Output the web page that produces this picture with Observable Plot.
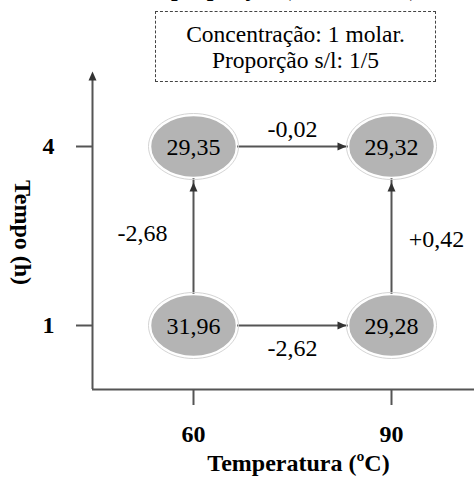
<!DOCTYPE html>
<html>
<head>
<meta charset="utf-8">
<script src="https://cdn.jsdelivr.net/npm/d3@7"></script>
<script src="https://cdn.jsdelivr.net/npm/@observablehq/plot@0.6"></script>
<style>
  html, body { margin: 0; padding: 0; background: white; }
  #wrap { position: relative; width: 474px; height: 480px; overflow: hidden; font-family: "Liberation Serif", "Times New Roman", serif; }
  #title { position: absolute; left: 0; width: 490px; top: -24px; text-align: center; font-weight: bold; font-size: 24px; line-height: 24px; white-space: nowrap; }
  #note { position: absolute; left: 155px; top: 11px; width: 281px; height: 71px; border: 1px dashed #444; box-sizing: border-box; text-align: center; font-size: 23.5px; line-height: 26px; padding-top: 9px; white-space: nowrap; }
  #chart { position: absolute; left: 0; top: 0; }
</style>
</head>
<body>
<div id="wrap">
  <div id="chart"></div>
  <div id="title">Efeito da proporção (rendimento)</div>
  <div id="note">Concentração: 1 molar.<br>Proporção s/l: 1/5</div>
</div>
<script>
// ---- data ----
const temps = [60, 90];            // Temperatura (ºC)
const times = [1, 4];              // Tempo (h)
// node values, order: (60,1), (90,1), (60,4), (90,4)
const nodeValues = ["31,96", "29,28", "29,35", "29,32"];
// effects between nodes
const edgeFrom = [0, 0, 2, 1];
const edgeTo = [1, 2, 3, 3];
const edgeLabels = ["-2,62", "-2,68", "-0,02", "+0,42"];
const xTickLabels = ["60", "90"];
const yTickLabels = ["1", "4"];
const xTitle = "Temperatura (ºC)";
const yTitle = "Tempo (h)";

const nodes = [
  {x: temps[0], y: times[0], label: nodeValues[0]},
  {x: temps[1], y: times[0], label: nodeValues[1]},
  {x: temps[0], y: times[1], label: nodeValues[2]},
  {x: temps[1], y: times[1], label: nodeValues[3]}
];
const edges = edgeFrom.map((f, i) => ({
  from: nodes[f], to: nodes[edgeTo[i]], label: edgeLabels[i],
  horizontal: nodes[f].y === nodes[edgeTo[i]].y
}));

// custom symbols
function ellipse(rx, ry) {
  const k = 0.5523;
  return {draw(ctx) {
    ctx.moveTo(rx, 0);
    ctx.bezierCurveTo(rx, ry * k, rx * k, ry, 0, ry);
    ctx.bezierCurveTo(-rx * k, ry, -rx, ry * k, -rx, 0);
    ctx.bezierCurveTo(-rx, -ry * k, -rx * k, -ry, 0, -ry);
    ctx.bezierCurveTo(rx * k, -ry, rx, -ry * k, rx, 0);
    ctx.closePath();
  }};
}
const arrowRight = {draw(ctx) { ctx.moveTo(0, 0); ctx.lineTo(-9, -4); ctx.lineTo(-9, 4); ctx.closePath(); }};
const arrowUp = {draw(ctx) { ctx.moveTo(0, 0); ctx.lineTo(-4, 9); ctx.lineTo(4, 9); ctx.closePath(); }};

// layout: 60 -> 193px, 90 -> 391px ; 4 -> 146px, 1 -> 325px
const W = 474, H = 480, mL = 92, mB = 91, mT = 75, mR = 0;
const kx = (391 - 193) / (temps[1] - temps[0]);
const ky = (325 - 146) / (times[1] - times[0]);
const xDomain = [temps[0] - (193 - mL) / kx, temps[1] + (W - mR - 391) / kx];
const yDomain = [times[0] - (H - mB - 325) / ky, times[1] + (146 - mT) / ky];

const FF = "'Liberation Serif', 'Times New Roman', serif";
const axisColor = "#555";
const chart = Plot.plot({
  width: W, height: H,
  marginLeft: mL, marginBottom: mB, marginTop: mT, marginRight: mR,
  x: {domain: xDomain, axis: null},
  y: {domain: yDomain, axis: null},
  style: {fontFamily: FF, background: "white", color: "black"},
  marks: [
    Plot.ruleX([xDomain[0]], {stroke: axisColor, strokeWidth: 2}),
    Plot.ruleY([yDomain[0]], {stroke: axisColor, strokeWidth: 2}),
    Plot.dot([0], {frameAnchor: "top-left", symbol: arrowUp, fill: "#333", stroke: "none", dy: -4}),
    Plot.axisX(temps, {tickSize: 16, tickPadding: 19, fontSize: 24, fontWeight: "bold", fontFamily: FF, stroke: axisColor, strokeWidth: 2, fill: "black", label: null, tickFormat: (d) => xTickLabels[temps.indexOf(d)]}),
    Plot.axisY(times, {tickSize: 16, tickPadding: 22, fontSize: 24, fontWeight: "bold", fontFamily: FF, stroke: axisColor, strokeWidth: 2, fill: "black", label: null, tickFormat: (d) => yTickLabels[times.indexOf(d)]}),
    Plot.text([xTitle], {frameAnchor: "bottom", text: d => d, dx: 15, dy: 81, fontSize: 24, fontWeight: "bold", fontFamily: FF, fill: "black"}),
    Plot.text([yTitle], {frameAnchor: "left", textAnchor: "middle", text: d => d, dx: -70, rotate: 90, fontSize: 24, fontWeight: "bold", fontFamily: FF, fill: "black"}),
    // links
    Plot.link(edges, {x1: d => d.from.x, y1: d => d.from.y, x2: d => d.to.x, y2: d => d.to.y, stroke: axisColor, strokeWidth: 2}),
    // arrowheads
    Plot.dot(edges.filter(d => d.horizontal), {x: d => d.to.x, y: d => d.to.y, symbol: arrowRight, dx: -45, fill: "#333", stroke: "none"}),
    Plot.dot(edges.filter(d => !d.horizontal), {x: d => d.to.x, y: d => d.to.y, symbol: arrowUp, dy: 36, fill: "#333", stroke: "none"}),
    // nodes
    Plot.dot(nodes, {x: "x", y: "y", symbol: ellipse(45, 33), fill: "none", stroke: "#d4d4d4", strokeWidth: 1}),
    Plot.dot(nodes, {x: "x", y: "y", symbol: ellipse(43, 31), fill: "#b4b4b4", stroke: "white", strokeWidth: 1.5}),
    Plot.text(nodes, {x: "x", y: "y", text: "label", fontSize: 24, fontFamily: FF, fill: "black", dy: 1}),
    // edge labels
    Plot.text(edges.filter(d => d.horizontal && d.from.y === times[1]), {x: d => (d.from.x + d.to.x) / 2, y: d => d.from.y, text: "label", dy: -17, fontSize: 24, fontFamily: FF, fill: "black"}),
    Plot.text(edges.filter(d => d.horizontal && d.from.y === times[0]), {x: d => (d.from.x + d.to.x) / 2, y: d => d.from.y, text: "label", dy: 23, fontSize: 24, fontFamily: FF, fill: "black"}),
    Plot.text(edges.filter(d => !d.horizontal && d.from.x === temps[0]), {x: d => d.from.x, y: d => (d.from.y + d.to.y) / 2, text: "label", dx: -51, dy: -3, fontSize: 24, fontFamily: FF, fill: "black"}),
    Plot.text(edges.filter(d => !d.horizontal && d.from.x === temps[1]), {x: d => d.from.x, y: d => (d.from.y + d.to.y) / 2, text: "label", dx: 45, dy: 3, fontSize: 24, fontFamily: FF, fill: "black"})
  ]
});
document.getElementById("chart").appendChild(chart);
</script>
</body>
</html>
